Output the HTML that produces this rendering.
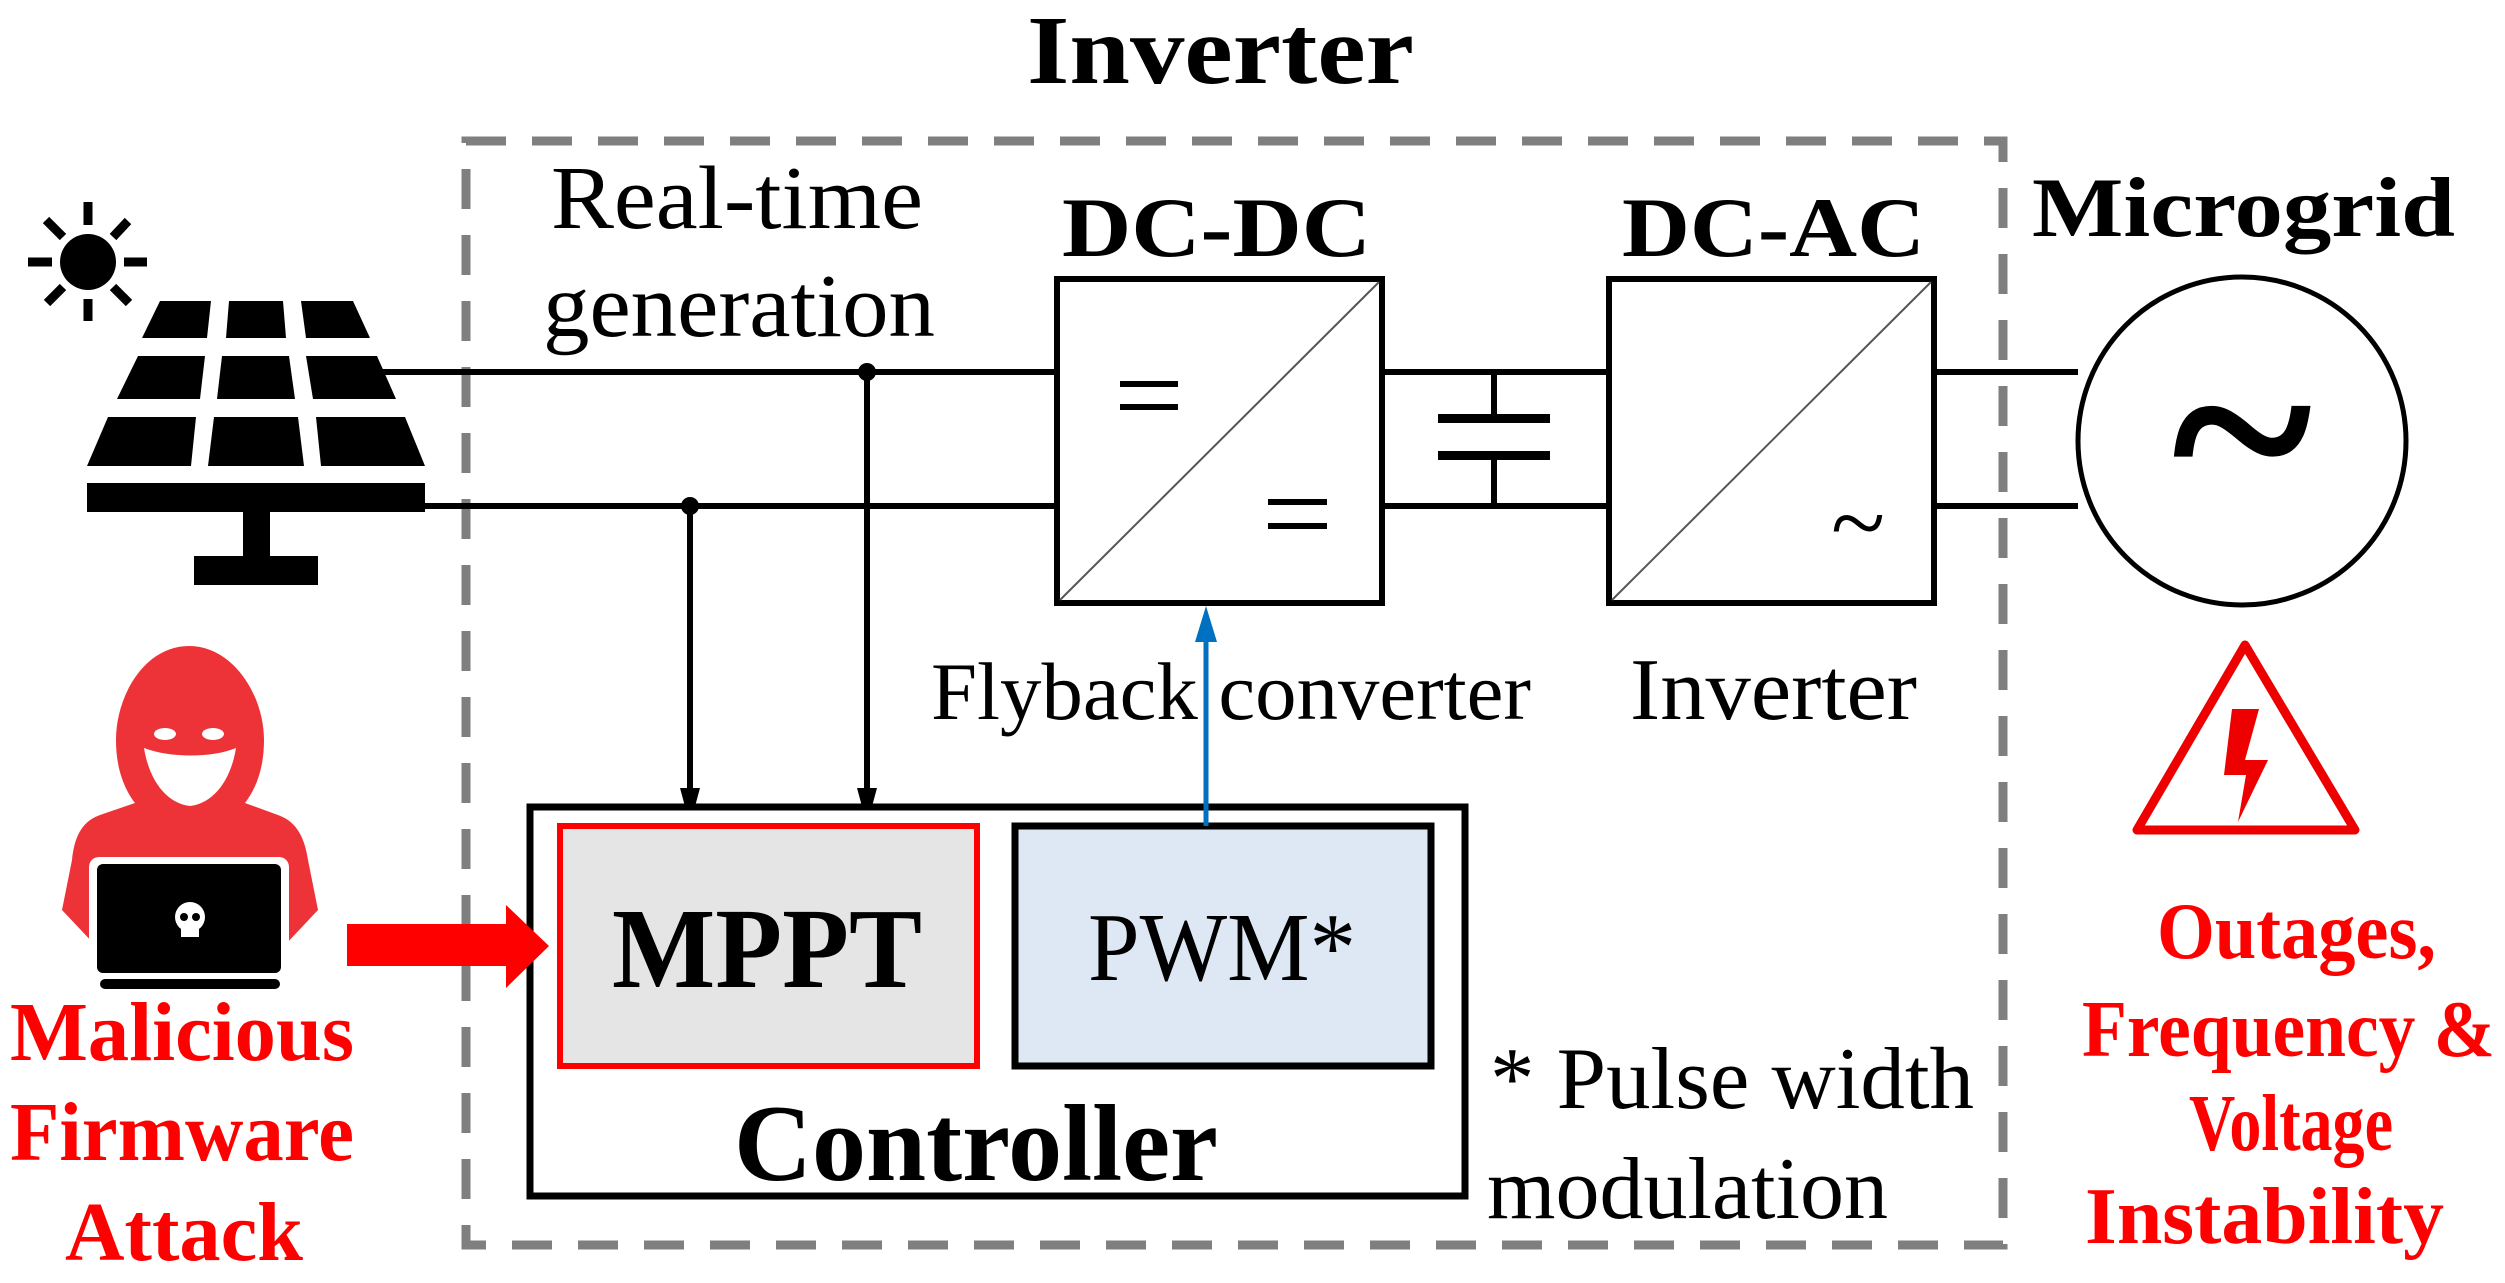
<!DOCTYPE html>
<html><head><meta charset="utf-8"><style>
html,body{margin:0;padding:0;background:#fff;}
svg{display:block;}
text{font-family:"Liberation Serif",serif;}
</style></head><body>
<svg width="2505" height="1283" viewBox="0 0 2505 1283" xmlns="http://www.w3.org/2000/svg">
<rect x="466" y="141" width="1537" height="1104" fill="none" stroke="#7f7f7f" stroke-width="9" stroke-dasharray="40,26"/>
<text x="1027" y="83" font-size="97" font-weight="bold" textLength="387" lengthAdjust="spacingAndGlyphs">Inverter</text>

<circle cx="88" cy="262" r="28" fill="#000"/>
<g stroke="#000" stroke-width="9">
<line x1="88" y1="202" x2="88" y2="225"/><line x1="88" y1="299" x2="88" y2="321"/>
<line x1="28" y1="262" x2="52" y2="262"/><line x1="124" y1="262" x2="147" y2="262"/>
<line x1="46" y1="220" x2="63" y2="237"/><line x1="113" y1="287" x2="129" y2="303"/>
<line x1="128" y1="221" x2="113" y2="237"/><line x1="63" y1="287" x2="47" y2="303"/>
</g>
<g fill="#000">
<polygon points="160,301 211,301 207,338 142,338"/>
<polygon points="229,301 283,301 286,338 226,338"/>
<polygon points="301,301 353,301 370,338 306,338"/>
<polygon points="138,356 205,356 200,399 117,399"/>
<polygon points="222,356 289,356 295,399 217,399"/>
<polygon points="306,356 377,356 396,399 313,399"/>
<polygon points="108,417 196,417 191,466 87,466"/>
<polygon points="214,417 298,417 304,466 208,466"/>
<polygon points="316,417 405,417 425,466 321,466"/>
<rect x="87" y="483" width="338" height="29"/>
<rect x="243" y="510" width="27" height="48"/>
<rect x="194" y="556" width="124" height="29"/>
</g>

<g stroke="#000" stroke-width="6" fill="none">
<line x1="380" y1="372" x2="1054" y2="372"/>
<line x1="425" y1="506" x2="1054" y2="506"/>
<line x1="1382" y1="372" x2="1606" y2="372"/>
<line x1="1382" y1="506" x2="1606" y2="506"/>
<line x1="1494" y1="372" x2="1494" y2="418"/>
<line x1="1494" y1="455" x2="1494" y2="506"/>
<line x1="1933" y1="372" x2="2078" y2="372"/>
<line x1="1933" y1="506" x2="2078" y2="506"/>
<line x1="867" y1="372" x2="867" y2="790"/>
<line x1="690" y1="506" x2="690" y2="790"/>
</g>
<rect x="1438" y="414" width="112" height="9" fill="#000"/>
<rect x="1438" y="451" width="112" height="9" fill="#000"/>
<circle cx="867" cy="372" r="9" fill="#000"/>
<circle cx="690" cy="506" r="9" fill="#000"/>
<polygon points="680,788 700,788 690,825" fill="#000"/>
<polygon points="857,788 877,788 867,825" fill="#000"/>

<text x="551" y="228" font-size="90" textLength="372" lengthAdjust="spacingAndGlyphs">Real-time</text>
<text x="543" y="336" font-size="90" textLength="392" lengthAdjust="spacingAndGlyphs">generation</text>

<text x="1062" y="256" font-size="85" font-weight="bold" textLength="309" lengthAdjust="spacingAndGlyphs">DC-DC</text>
<rect x="1057" y="279" width="325" height="324" fill="#fff" stroke="#000" stroke-width="6"/>
<line x1="1060" y1="600" x2="1379" y2="282" stroke="#555" stroke-width="2"/>
<g fill="#000">
<rect x="1120" y="381" width="58" height="6"/><rect x="1120" y="404" width="58" height="6"/>
<rect x="1268" y="499" width="59" height="6"/><rect x="1268" y="523" width="59" height="6"/>
<rect x="1678" y="384" width="61" height="6"/><rect x="1678" y="407" width="61" height="6"/>
</g>

<text x="1622" y="256" font-size="85" font-weight="bold" textLength="303" lengthAdjust="spacingAndGlyphs">DC-AC</text>
<rect x="1609" y="279" width="325" height="324" fill="#fff" stroke="#000" stroke-width="6"/>
<line x1="1612" y1="600" x2="1931" y2="282" stroke="#555" stroke-width="2"/>
<text x="1858" y="556" font-size="100" text-anchor="middle">~</text>

<text x="2032" y="236" font-size="85" font-weight="bold" textLength="423" lengthAdjust="spacingAndGlyphs">Microgrid</text>
<circle cx="2242" cy="441" r="164" fill="#fff" stroke="#000" stroke-width="5"/>
<text x="2242" y="520" font-size="270" font-weight="bold" text-anchor="middle">~</text>

<polygon points="2245,645 2137,830 2355,830" fill="#fff" stroke="#e00" stroke-width="9" stroke-linejoin="round"/>
<polygon points="2232,709 2259,709 2245,760 2268,760 2238,822 2246,775 2224,775" fill="#e00"/>

<g font-size="80" font-weight="bold" fill="#f00">
<text x="2157" y="958" textLength="279" lengthAdjust="spacingAndGlyphs">Outages,</text>
<text x="2082" y="1056" textLength="413" lengthAdjust="spacingAndGlyphs">Frequency &amp;</text>
<text x="2189" y="1150" textLength="204" lengthAdjust="spacingAndGlyphs">Voltage</text>
<text x="2085" y="1243" textLength="359" lengthAdjust="spacingAndGlyphs">Instability</text>
</g>

<text x="931" y="719" font-size="82" textLength="600" lengthAdjust="spacingAndGlyphs">Flyback  converter</text>
<text x="1630" y="719" font-size="88" textLength="287" lengthAdjust="spacingAndGlyphs">Inverter</text>

<rect x="530" y="807" width="935" height="389" fill="#fff" stroke="#000" stroke-width="7"/>
<rect x="560" y="826" width="417" height="240" fill="#e5e5e5" stroke="#f00" stroke-width="6"/>
<rect x="1015" y="826" width="416" height="240" fill="#dde8f4" stroke="#000" stroke-width="7"/>
<text x="612" y="987" font-size="114" font-weight="bold" textLength="310" lengthAdjust="spacingAndGlyphs">MPPT</text>
<text x="1088" y="980" font-size="98" textLength="268" lengthAdjust="spacingAndGlyphs">PWM*</text>
<text x="734" y="1180" font-size="109" font-weight="bold" textLength="484" lengthAdjust="spacingAndGlyphs">Controller</text>
<text x="1490" y="1108" font-size="88" textLength="484" lengthAdjust="spacingAndGlyphs">* Pulse width</text>
<text x="1487" y="1218" font-size="88" textLength="401" lengthAdjust="spacingAndGlyphs">modulation</text>

<line x1="1206" y1="826" x2="1206" y2="640" stroke="#0070c0" stroke-width="5"/>
<polygon points="1195,642 1217,642 1206,606" fill="#0070c0"/>

<g>
<path d="M189,646 C145,646 116,695 116,740 C116,770 125,790 135,803 L100,815 C80,822 74,840 72,860 L62,910 L95,945 L285,945 L318,910 L308,860 C305,840 298,822 278,815 L245,803 C255,790 264,770 264,740 C264,695 233,646 189,646 Z" fill="#ee3338"/>
<path d="M144,748 C170,758 212,758 236,748 C230,785 210,804 190,806 C170,804 150,785 144,748 Z" fill="#fff"/>
<ellipse cx="165" cy="734" rx="11" ry="6" fill="#fff"/>
<ellipse cx="213" cy="734" rx="11" ry="6" fill="#fff"/>
<rect x="89" y="857" width="200" height="122" rx="10" fill="#fff"/>
<rect x="97" y="864" width="184" height="109" rx="6" fill="#000"/>
<rect x="100" y="979" width="180" height="10" rx="5" fill="#000"/>
<circle cx="190" cy="917" r="15" fill="#fff"/>
<rect x="181" y="925" width="18" height="12" fill="#fff"/>
<circle cx="184" cy="917" r="4" fill="#000"/><circle cx="196" cy="917" r="4" fill="#000"/>
</g>
<rect x="347" y="924" width="162" height="42" fill="#f00"/>
<polygon points="506,905 549,946 506,988" fill="#f00"/>

<g font-size="84" font-weight="bold" fill="#f00">
<text x="10" y="1060" textLength="344" lengthAdjust="spacingAndGlyphs">Malicious</text>
<text x="10" y="1160" textLength="344" lengthAdjust="spacingAndGlyphs">Firmware</text>
<text x="65" y="1260" textLength="238" lengthAdjust="spacingAndGlyphs">Attack</text>
</g>
</svg>
</body></html>
